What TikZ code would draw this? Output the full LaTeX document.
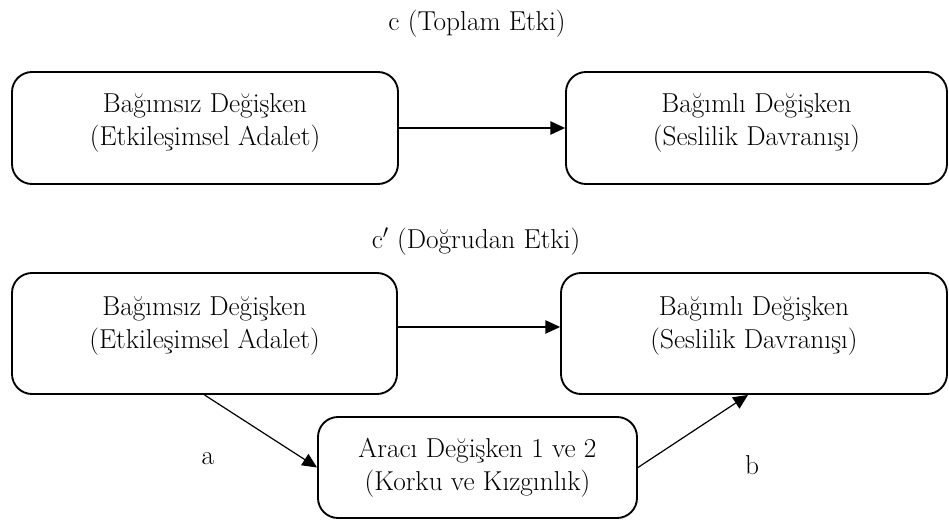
\documentclass[tikz,border=0pt]{standalone}
\usepackage{fontspec}
\usepackage{tikz}
\usetikzlibrary{positioning,arrows.meta}
\tikzset{
  >={Triangle[length=11pt,width=10pt]},
  varbox/.style={draw, line width=1.4pt, rounded corners=15pt, align=center,
    inner sep=0pt, font=\fontsize{20.5}{25}\selectfont},
  boxtxt/.style={align=center, inner sep=0pt, yshift=#1,
    font=\fontsize{20.5}{25}\selectfont},
  boxtxt/.default=3.6pt,
  lbl/.style={font=\fontsize{20.5}{25}\selectfont},
}

\begin{document}
\begin{tikzpicture}[
  x=0.75pt,y=-0.75pt,
  arr/.style={->, line width=0.9pt},
]
\useasboundingbox (0,0) rectangle (949,521);

% total effect
\node[lbl] (ctot) at (477,24) {c (Toplam Etki)};
\node[varbox, minimum width=289.5pt, minimum height=84pt,
  label={[boxtxt]center:{Bağımsız Değişken\\(Etkileşimsel Adalet)}}] (ind1) at (205,128) {};
\node[varbox, minimum width=285.75pt, minimum height=84pt,
  label={[boxtxt]center:{Bağımlı Değişken\\(Seslilik Davranışı)}}] (dep1) at (756.5,128) {};

% direct effect
\node[lbl] (cdir) at (476,242) {c$'$ (Doğrudan Etki)};
\node[varbox, minimum width=288.75pt, minimum height=90.75pt,
  label={[boxtxt=5.9pt]center:{Bağımsız Değişken\\(Etkileşimsel Adalet)}}] (ind2) at (204.5,333.5) {};
\node[varbox, minimum width=289.5pt, minimum height=90.75pt,
  label={[boxtxt=5.9pt]center:{Bağımlı Değişken\\(Seslilik Davranışı)}}] (dep2) at (754,333.5) {};
\node[varbox, minimum width=239.25pt, minimum height=75.75pt] (med) at (477.5,467.5)
  {Aracı Değişken 1 ve 2\\(Korku ve Kızgınlık)};

\node[lbl] (pa) at (208,459) {a};
\node[lbl] (pb) at (752,465) {b};

\draw[arr] (ind1) -- (dep1);
\draw[arr] ([yshift=4.9pt]ind2.east) -- ([yshift=4.9pt]dep2.west);
\draw[arr] (ind2.south) -- (med.west);
\draw[arr] (med.east) -- ([xshift=-4.5pt]dep2.south);
\end{tikzpicture}
\end{document}
